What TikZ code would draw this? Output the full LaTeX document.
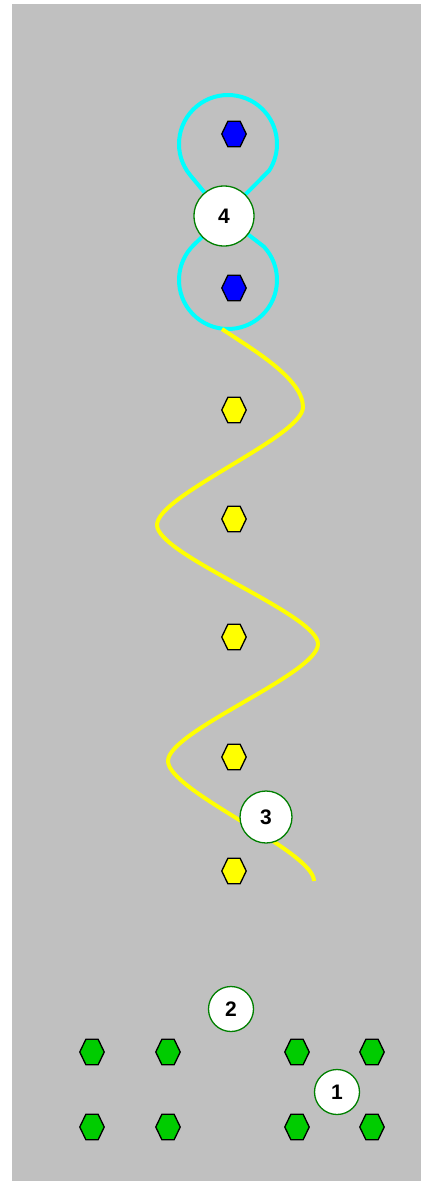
\documentclass[tikz,border=0pt]{standalone}
\usepackage{fontspec}
\setmainfont{Liberation Sans}
\usepackage{tikz}
\usetikzlibrary{positioning, shapes.geometric}
\definecolor{panelgray}{RGB}{192, 192, 192}
\definecolor{ringgreen}{RGB}{0, 128, 0}
\definecolor{hexgreen}{RGB}{0, 204, 0}
\definecolor{hexblue}{RGB}{0, 0, 255}
\definecolor{hexyellow}{RGB}{255, 255, 0}
\definecolor{loopcyan}{RGB}{0, 255, 255}
\pgfdeclarelayer{panel}
\pgfdeclarelayer{wires}
\pgfsetlayers{panel,wires,main}

\begin{document}
\begin{tikzpicture}[
            x=1pt, y=-1pt,
            hexa/.style={regular polygon, regular polygon sides=6, minimum size=24.5pt, inner sep=0pt, draw=black, line width=1.3pt, transform shape, yscale=1.2},
            greenhex/.style={hexa, fill=hexgreen},
            bluehex/.style={hexa, fill=hexblue},
            yellowhex/.style={hexa, fill=hexyellow},
            numnode/.style={circle, draw=ringgreen, fill=white, line width=1.3pt, inner sep=0pt, font=\fontsize{21}{21}\selectfont\bfseries},
            loopline/.style={draw=loopcyan, line width=4pt},
            wave/.style={draw=hexyellow, line width=4pt}
        ]
            \useasboundingbox (0,0) rectangle (421,1181);
            \begin{pgfonlayer}{panel}
                \fill[panelgray] (12,4) rectangle (421,1181);
            \end{pgfonlayer}

            % blue pair inside the loops
            \node[bluehex] (b1) at (234,134) {};
            \node[bluehex] (b2) at (234,288) {};

            % yellow column
            \node[yellowhex] (y1) at (234,410) {};
            \node[yellowhex] (y2) at (234,519) {};
            \node[yellowhex] (y3) at (234,637) {};
            \node[yellowhex] (y4) at (234,757) {};
            \node[yellowhex] (y5) at (234,871) {};

            % green rows
            \node[greenhex] (g1) at (92,1052) {};
            \node[greenhex] (g2) at (168,1052) {};
            \node[greenhex] (g3) at (297,1052) {};
            \node[greenhex] (g4) at (372,1052) {};
            \node[greenhex] (g5) at (92,1127) {};
            \node[greenhex] (g6) at (168,1127) {};
            \node[greenhex] (g7) at (297,1127) {};
            \node[greenhex] (g8) at (372,1127) {};

            \node[numnode, minimum size=60pt] (n4) at (224,216) {4};
            \node[numnode, minimum size=52pt] (n3) at (266,817) {3};
            \node[numnode, minimum size=45pt] (n2) at (231,1009) {2};
            \node[numnode, minimum size=45pt] (n1) at (337,1092) {1};

            \coordinate (uloop) at (228,144);
            \coordinate (lloop) at (228,280);
            \coordinate (wstart) at (222,329);
            \coordinate (wend) at (314,881);

            \begin{pgfonlayer}{wires}
                \draw[loopline] (n4) -- ([shift={(140.4:49)}]uloop) arc[start angle=140.4, end angle=393, radius=49] -- (n4);
                \draw[loopline] (n4) -- ([shift={(226.4:49)}]lloop) arc[start angle=226.4, end angle=-43, radius=49] -- (n4);
                \draw[wave] (wstart) .. controls (250,348) and (303,378) .. (303,407)
                    .. controls (303,437) and (157,495) .. (157,525)
                    .. controls (157,555) and (318,614) .. (318,644)
                    .. controls (318,674) and (168,731) .. (168,761)
                    .. controls (168,791) and (314,851) .. (wend);
            \end{pgfonlayer}
        \end{tikzpicture}
\end{document}
